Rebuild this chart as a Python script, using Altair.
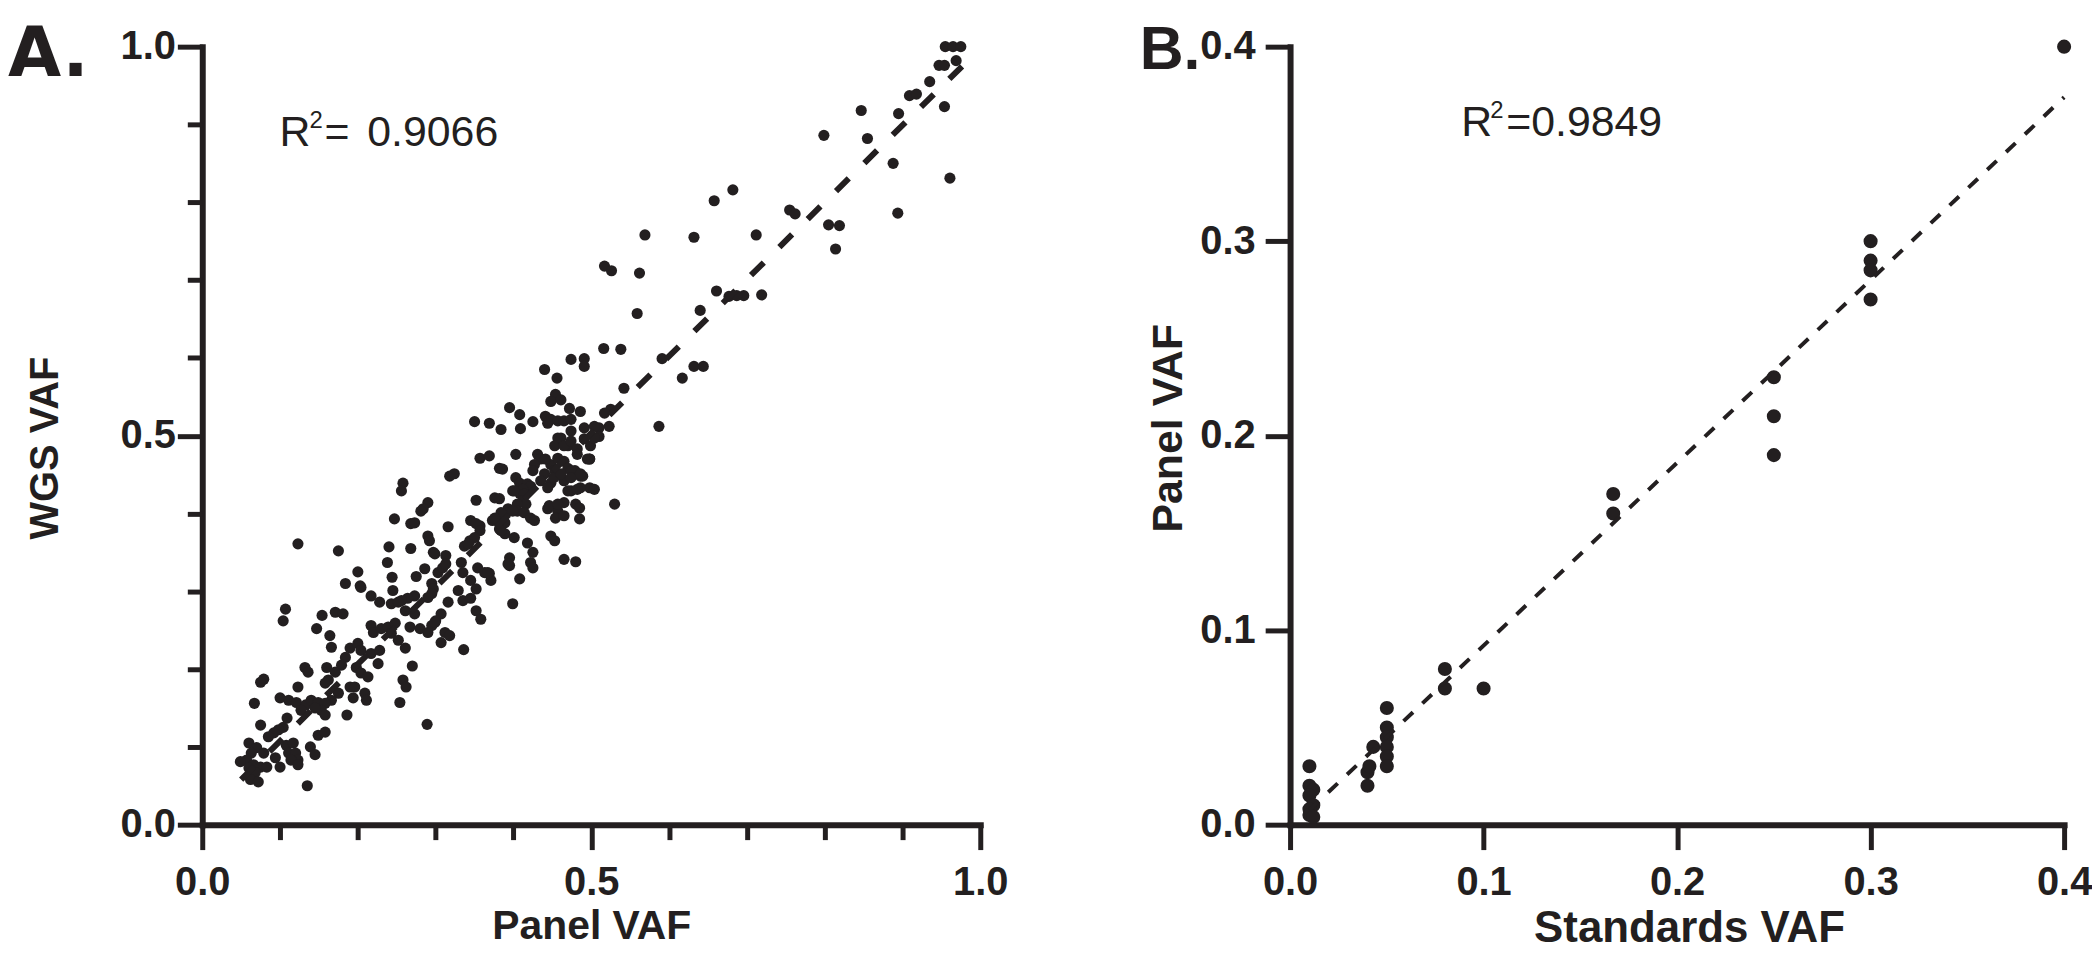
import altair as alt
import pandas as pd

INK = "#231f20"
FONT = "Liberation Sans"

# ---------------- Panel A: Panel VAF (x) vs WGS VAF (y) ----------------
a_upper = [
    (0.955, 1.0), (0.965, 1.0), (0.975, 1.0), (0.947, 0.976), (0.954, 0.976), (0.969, 0.982),
    (0.935, 0.955), (0.909, 0.937), (0.918, 0.939), (0.847, 0.918), (0.895, 0.914), (0.954, 0.923),
    (0.799, 0.886), (0.855, 0.882), (0.888, 0.85), (0.961, 0.831), (0.682, 0.816), (0.658, 0.802),
    (0.755, 0.79), (0.762, 0.785), (0.894, 0.786), (0.805, 0.771), (0.819, 0.77), (0.814, 0.74),
    (0.569, 0.758), (0.632, 0.755), (0.712, 0.758), (0.517, 0.718), (0.526, 0.712), (0.562, 0.709),
    (0.559, 0.657), (0.661, 0.686), (0.677, 0.679), (0.696, 0.68), (0.687, 0.68), (0.719, 0.681),
    (0.64, 0.661), (0.516, 0.612), (0.538, 0.611), (0.591, 0.599), (0.632, 0.589), (0.644, 0.589),
    (0.617, 0.574), (0.542, 0.561), (0.525, 0.534), (0.517, 0.529), (0.523, 0.512), (0.51, 0.51),
    (0.587, 0.512),
]
a_middle = [
    (0.474, 0.598), (0.491, 0.599), (0.491, 0.589), (0.44, 0.585), (0.456, 0.574), (0.454, 0.553),
    (0.448, 0.544), (0.461, 0.546), (0.472, 0.535), (0.486, 0.531), (0.395, 0.536), (0.408, 0.527),
    (0.425, 0.518), (0.35, 0.518), (0.369, 0.516), (0.384, 0.508), (0.409, 0.509), (0.441, 0.525),
    (0.448, 0.521), (0.457, 0.519), (0.465, 0.519), (0.474, 0.521), (0.444, 0.516), (0.474, 0.506),
    (0.491, 0.51), (0.504, 0.512), (0.51, 0.499), (0.499, 0.487), (0.498, 0.47), (0.486, 0.448),
    (0.457, 0.497), (0.453, 0.487), (0.47, 0.487), (0.491, 0.496), (0.504, 0.497), (0.461, 0.497),
    (0.465, 0.487), (0.474, 0.493), (0.482, 0.483), (0.357, 0.471), (0.369, 0.474), (0.403, 0.476),
    (0.431, 0.476), (0.435, 0.47), (0.427, 0.463), (0.448, 0.463), (0.465, 0.467), (0.482, 0.476),
    (0.498, 0.47), (0.441, 0.47), (0.457, 0.471), (0.47, 0.458), (0.479, 0.455), (0.382, 0.458),
    (0.386, 0.457), (0.318, 0.448), (0.324, 0.451), (0.425, 0.455), (0.44, 0.451), (0.453, 0.455),
    (0.474, 0.455), (0.489, 0.448), (0.403, 0.446), (0.408, 0.439), (0.435, 0.442), (0.448, 0.439),
    (0.465, 0.442), (0.418, 0.438), (0.452, 0.446), (0.461, 0.451), (0.474, 0.446), (0.486, 0.451),
    (0.495, 0.47), (0.422, 0.435), (0.444, 0.433), (0.498, 0.433), (0.504, 0.431), (0.474, 0.429),
    (0.486, 0.433), (0.258, 0.439), (0.256, 0.429), (0.399, 0.429), (0.408, 0.426), (0.412, 0.431),
    (0.47, 0.429), (0.482, 0.431), (0.401, 0.429), (0.414, 0.425), (0.352, 0.417), (0.376, 0.42),
    (0.382, 0.419), (0.412, 0.416), (0.416, 0.412), (0.405, 0.412), (0.444, 0.406), (0.457, 0.403),
    (0.465, 0.414), (0.48, 0.412), (0.485, 0.407), (0.446, 0.41), (0.457, 0.412), (0.29, 0.414),
    (0.284, 0.406), (0.281, 0.403), (0.393, 0.406), (0.405, 0.403), (0.414, 0.401), (0.53, 0.412),
    (0.247, 0.393), (0.422, 0.394), (0.427, 0.391), (0.485, 0.393), (0.454, 0.394), (0.465, 0.397),
    (0.268, 0.387), (0.273, 0.388), (0.316, 0.383), (0.345, 0.391), (0.357, 0.384), (0.352, 0.387),
    (0.373, 0.391), (0.38, 0.393), (0.39, 0.401), (0.399, 0.403), (0.384, 0.401), (0.376, 0.394),
    (0.389, 0.388), (0.357, 0.378), (0.382, 0.38), (0.389, 0.374), (0.401, 0.369), (0.384, 0.378),
    (0.448, 0.371), (0.453, 0.365), (0.418, 0.362), (0.425, 0.35), (0.123, 0.361), (0.175, 0.352),
    (0.24, 0.357), (0.268, 0.355), (0.29, 0.371), (0.292, 0.365), (0.297, 0.35), (0.299, 0.348),
    (0.337, 0.358), (0.344, 0.365), (0.35, 0.369), (0.342, 0.361), (0.313, 0.346), (0.395, 0.343),
    (0.395, 0.333), (0.422, 0.337), (0.465, 0.341), (0.48, 0.338), (0.238, 0.337), (0.286, 0.329),
    (0.303, 0.324), (0.309, 0.33), (0.313, 0.335), (0.333, 0.337), (0.335, 0.324), (0.354, 0.33),
    (0.363, 0.324), (0.369, 0.323), (0.371, 0.314), (0.367, 0.324), (0.393, 0.335), (0.425, 0.33),
    (0.2, 0.325), (0.244, 0.318), (0.275, 0.319), (0.345, 0.314), (0.408, 0.316), (0.184, 0.31),
    (0.203, 0.307), (0.204, 0.305), (0.245, 0.301), (0.295, 0.31), (0.297, 0.303), (0.329, 0.301),
    (0.352, 0.303),
]
a_lower = [
    (0.217, 0.294), (0.228, 0.286), (0.295, 0.297), (0.29, 0.292), (0.273, 0.294), (0.264, 0.291),
    (0.256, 0.288), (0.243, 0.284), (0.252, 0.286), (0.335, 0.288), (0.345, 0.291), (0.316, 0.286),
    (0.399, 0.284), (0.107, 0.277), (0.104, 0.262), (0.154, 0.269), (0.171, 0.273), (0.181, 0.271),
    (0.273, 0.271), (0.261, 0.275), (0.307, 0.271), (0.30, 0.262), (0.295, 0.256), (0.352, 0.275),
    (0.358, 0.264), (0.147, 0.252), (0.164, 0.243), (0.217, 0.256), (0.22, 0.247), (0.23, 0.252),
    (0.239, 0.254), (0.248, 0.259), (0.243, 0.246), (0.267, 0.254), (0.28, 0.252), (0.29, 0.247),
    (0.299, 0.26), (0.312, 0.247), (0.318, 0.243), (0.307, 0.234), (0.252, 0.237), (0.166, 0.228),
    (0.19, 0.227), (0.2, 0.233), (0.204, 0.224), (0.184, 0.215), (0.217, 0.22), (0.228, 0.224),
    (0.226, 0.207), (0.261, 0.227), (0.336, 0.225), (0.132, 0.202), (0.136, 0.196), (0.16, 0.202),
    (0.179, 0.205), (0.171, 0.196), (0.162, 0.186), (0.158, 0.182), (0.198, 0.202), (0.204, 0.195),
    (0.213, 0.19), (0.27, 0.204), (0.079, 0.187), (0.075, 0.183), (0.123, 0.177), (0.258, 0.186),
    (0.262, 0.177), (0.19, 0.177), (0.196, 0.177), (0.194, 0.163), (0.175, 0.169), (0.166, 0.16),
    (0.209, 0.169), (0.211, 0.16), (0.067, 0.156), (0.1, 0.163), (0.111, 0.16), (0.121, 0.157),
    (0.133, 0.154), (0.14, 0.16), (0.149, 0.157), (0.158, 0.156), (0.153, 0.147), (0.158, 0.141),
    (0.145, 0.15), (0.127, 0.147), (0.254, 0.157), (0.186, 0.141), (0.075, 0.128), (0.109, 0.137),
    (0.104, 0.125), (0.098, 0.122), (0.092, 0.118), (0.085, 0.113), (0.149, 0.115), (0.158, 0.119),
    (0.289, 0.129), (0.06, 0.105), (0.07, 0.099), (0.079, 0.092), (0.063, 0.092), (0.057, 0.083),
    (0.108, 0.102), (0.117, 0.105), (0.111, 0.092), (0.12, 0.092), (0.123, 0.083), (0.114, 0.083),
    (0.123, 0.077), (0.139, 0.1), (0.145, 0.09), (0.094, 0.086), (0.1, 0.074), (0.049, 0.081),
    (0.066, 0.077), (0.075, 0.074), (0.083, 0.074), (0.06, 0.073), (0.068, 0.067), (0.062, 0.058),
    (0.072, 0.055), (0.135, 0.05),
]
a_fit_x = [0.05, 0.985]
a_fit_y = [0.058, 0.983]
a_r2_x = 0.0994
a_r2_y = 0.872
# annotation pieces: text, font size, dx, dy
a_r2_parts = [("R", 43, 0, 0), ("2", 24, 30, -18), ("=", 43, 45, 0), ("0.9066", 43, 88, 0)]
a_major = [0.0, 0.5, 1.0]
a_minor = [0.1, 0.2, 0.3, 0.4, 0.6, 0.7, 0.8, 0.9]

# ---------------- Panel B: Standards VAF (x) vs Panel VAF (y) ----------------
b_x = [0.01, 0.01, 0.012, 0.01, 0.012, 0.01, 0.01, 0.012,
       0.04, 0.04, 0.041, 0.043,
       0.05, 0.05, 0.05, 0.05, 0.05, 0.05,
       0.08, 0.08, 0.1,
       0.167, 0.167,
       0.25, 0.25, 0.25,
       0.3, 0.3, 0.3, 0.3,
       0.4]
b_y = [0.03, 0.02, 0.018, 0.015, 0.01, 0.008, 0.005, 0.004,
       0.02, 0.027, 0.03, 0.04,
       0.06, 0.05, 0.045, 0.04, 0.035, 0.03,
       0.08, 0.07, 0.07,
       0.17, 0.16,
       0.23, 0.21, 0.19,
       0.30, 0.29, 0.285, 0.27,
       0.40]
b_fit_x = [0.01, 0.40]
b_fit_y = [0.0075, 0.374]
b_r2_x = 0.0885
b_r2_y = 0.354
b_r2_parts = [("R", 43, 0, 0), ("2", 24, 29, -18), ("=0.9849", 43, 45, 0)]
b_ticks = [0.0, 0.1, 0.2, 0.3, 0.4]

AW, AH = 781, 781
BW, BH = 777, 781


def major_axis(orient, values, title, lpad, tpad, tsize, **extra):
    return alt.Axis(
        orient=orient, values=values, format=".1f", title=title, grid=False,
        domainColor=INK, domainWidth=6, domainCap="square",
        tickColor=INK, tickWidth=5, tickSize=25,
        labelFont=FONT, labelFontWeight="bold", labelFontSize=40, labelColor=INK,
        labelPadding=lpad, labelFlush=False, labelOverlap=False,
        titleFont=FONT, titleFontWeight="bold", titleFontSize=tsize, titleColor=INK,
        titlePadding=tpad, **extra,
    )


def minor_axis(orient, values):
    return alt.Axis(
        orient=orient, values=values, labels=False, domain=False, grid=False,
        title="", tickColor=INK, tickWidth=5, tickSize=15,
    )


def panel(pts, fit_x, fit_y, dom, xaxis, yaxis, xminor, yminor, r2_x, r2_y, r2_parts,
          letter, lfont, lx, ly, lsize, pt_size, lw, dash, W, H):
    sc = alt.Scale(domain=dom, nice=False, zero=False)
    df = pd.DataFrame(pts, columns=["x", "y"])
    points = alt.Chart(df).mark_circle(size=pt_size, color=INK, opacity=1).encode(
        x=alt.X("x:Q", scale=sc, axis=xaxis),
        y=alt.Y("y:Q", scale=sc, axis=yaxis),
    )
    fdf = pd.DataFrame({"x": fit_x, "y": fit_y})
    if xminor is not None:
        fx = alt.X("x:Q", scale=sc, axis=xminor)
        fy = alt.Y("y:Q", scale=sc, axis=yminor)
    else:
        fx = alt.X("x:Q", scale=sc, axis=None)
        fy = alt.Y("y:Q", scale=sc, axis=None)
    fit = alt.Chart(fdf).mark_line(color=INK, strokeWidth=lw, strokeDash=dash).encode(x=fx, y=fy)
    layers = [points, fit]
    tdf = pd.DataFrame({"x": [r2_x], "y": [r2_y]})
    for txt, fs, dx, dy in r2_parts:
        layers.append(
            alt.Chart(tdf).mark_text(
                align="left", baseline="alphabetic", font=FONT, fontSize=fs,
                color=INK, dx=dx, dy=dy, text=txt,
            ).encode(
                x=alt.X("x:Q", scale=sc, axis=None),
                y=alt.Y("y:Q", scale=sc, axis=None),
            )
        )
    ldf = pd.DataFrame({"t": [letter]})
    layers.append(
        alt.Chart(ldf).mark_text(
            align="left", baseline="top", font=lfont, fontWeight="bold", fontSize=lsize, color=INK
        ).encode(x=alt.value(lx), y=alt.value(ly), text="t:N")
    )
    return alt.layer(*layers).resolve_axis(
        x="independent", y="independent"
    ).properties(width=W, height=H)


a_pts = a_upper + a_middle + a_lower
b_pts = list(zip(b_x, b_y))

panel_a = panel(
    a_pts, a_fit_x, a_fit_y, [0, 1],
    major_axis("bottom", a_major, "Panel VAF", 13, 4, 41),
    major_axis("left", a_major, "WGS VAF", 2, 55, 40, titleY=AH / 2 + 12),
    minor_axis("bottom", a_minor), minor_axis("left", a_minor),
    a_r2_x, a_r2_y, a_r2_parts, "A.", "DejaVu Sans", -195, -26, 69, 125, 6, [18, 22], AW, AH,
)
panel_b = panel(
    b_pts, b_fit_x, b_fit_y, [0, 0.4],
    major_axis("bottom", b_ticks, "Standards VAF", 13, 4, 44, titleX=BW / 2 + 12),
    major_axis("left", b_ticks, "Panel VAF", 10, 9, 43, titleY=BH / 2 - 8),
    None, None,
    b_r2_x, b_r2_y, b_r2_parts, "B.", FONT, -151, -26, 61, 200, 4, [13, 13], BW, BH,
)

chart = alt.hconcat(panel_a, panel_b, spacing=132).properties(
    padding={"top": 10, "left": 0, "right": 0, "bottom": 0}, background="white"
).configure_view(stroke=None)

chart.save("out.html", embed_options={"renderer": "svg", "actions": False})
